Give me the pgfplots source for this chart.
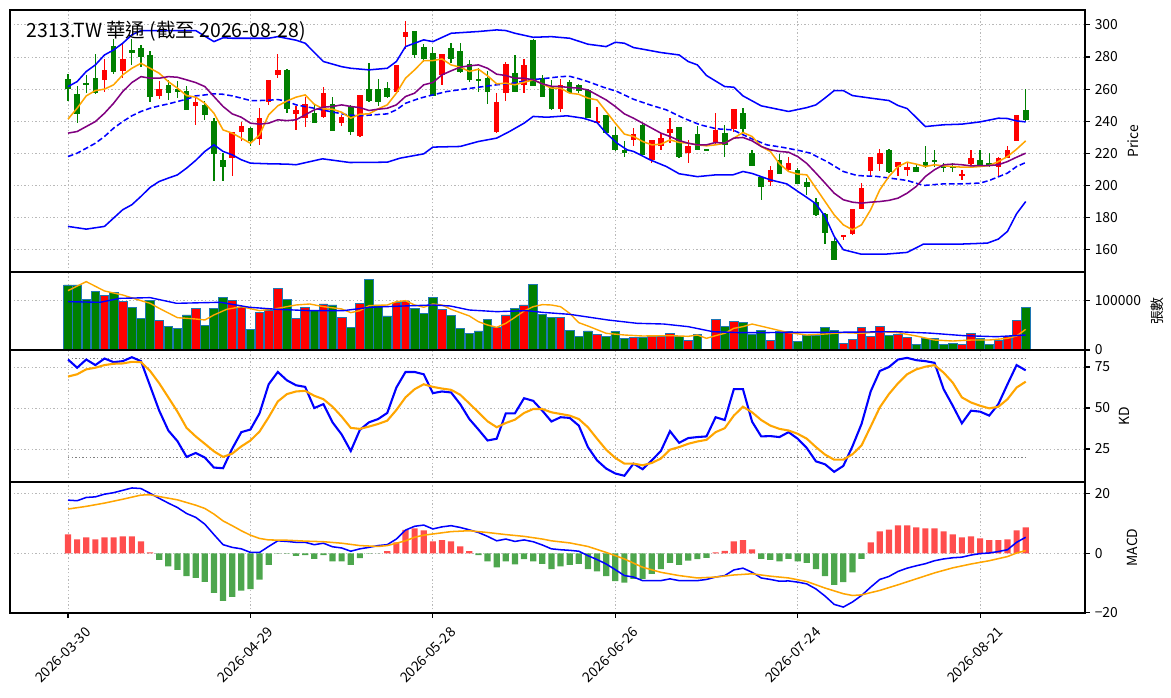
\documentclass[border=0pt]{standalone}
\usepackage{fontspec}
\setmainfont{Noto Sans CJK TC}
\usepackage{pgfplots}
\usepackage{pgfplotstable}
\pgfplotsset{compat=1.18}
\definecolor{cred}{RGB}{255,0,0}
\definecolor{cgreen}{RGB}{0,128,0}
\definecolor{cblue}{RGB}{0,0,255}
\definecolor{corange}{RGB}{255,165,0}
\definecolor{cpurple}{RGB}{128,0,128}
\definecolor{cedge}{RGB}{31,119,180}
\definecolor{hred}{RGB}{255,77,77}
\definecolor{hgreen}{RGB}{77,166,77}

% up (red) candles: index open high low close volume
\pgfplotstableread{
i o h l c v
4 265.4 278.6 258.5 272.0 110700
6 271.0 288.0 266.8 278.8 98000
10 256.0 265.1 253.7 260.2 59700
14 249.8 255.0 237.8 252.1 83900
18 217.0 233.4 206.2 233.2 100000
19 233.0 239.3 227.4 237.1 86000
21 228.8 248.5 224.9 241.9 75800
22 251.9 266.0 250.4 265.8 80500
23 269.1 282.2 266.8 272.0 124200
25 244.8 249.8 234.6 247.1 63800
26 242.3 255.4 236.3 250.8 86000
28 242.9 261.6 242.0 257.5 92600
30 239.2 244.0 237.1 242.5 65800
32 230.9 256.6 230.5 256.4 94000
36 258.5 275.3 257.9 275.1 96000
37 292.7 302.5 284.9 295.6 98700
41 268.9 282.2 262.7 281.9 81900
47 233.0 257.5 232.8 252.1 45600
48 257.5 276.8 252.5 275.7 70500
50 262.7 278.8 257.9 275.1 90600
54 247.5 266.4 246.0 262.7 65800
58 238.8 248.8 238.6 240.2 31500
62 228.4 235.7 224.3 232.2 25500
64 216.0 228.6 213.9 228.4 28200
65 224.3 232.6 221.8 229.7 28200
66 232.6 241.9 226.3 235.1 34200
68 220.3 228.4 214.3 224.7 18800
71 226.8 245.0 225.3 234.6 61700
73 235.3 247.9 233.6 247.7 57000
77 201.9 212.3 199.4 209.8 19500
79 209.8 218.0 208.7 213.9 37600
85 168.3 168.9 166.2 168.7 13400
86 169.7 185.5 168.9 185.3 21500
87 185.3 201.5 185.1 198.3 45600
88 209.3 217.8 206.2 217.6 27500
89 213.3 222.6 209.3 220.1 47700
91 211.8 214.9 205.6 214.5 31500
92 209.8 214.5 205.6 211.4 25500
98 205.6 209.8 203.5 207.3 11400
99 213.5 222.2 212.9 217.4 33600
102 211.8 218.0 205.2 217.2 18800
103 217.4 224.3 217.0 222.2 27500
104 227.8 244.2 227.6 244.0 59700
}\upc

% down (green) candles
\pgfplotstableread{
i o h l c v
0 266.4 269.3 252.9 260.0 130900
1 257.1 262.0 239.2 244.8 130900
2 264.0 269.0 257.5 263.0 102000
3 267.0 281.7 257.0 257.5 118000
5 286.9 291.0 269.5 270.5 116000
7 284.4 291.0 275.0 282.8 86000
8 285.9 287.8 274.0 279.9 63800
9 281.3 284.0 252.3 255.0 100000
11 262.7 265.4 253.3 257.3 47700
12 260.0 265.1 254.4 258.5 43600
13 258.9 262.2 247.1 247.3 70500
15 250.0 252.9 240.9 244.2 50300
16 240.2 241.9 202.9 219.9 83900
17 216.0 220.5 202.9 211.8 106000
20 235.9 236.7 224.3 227.4 41600
24 272.0 272.5 245.0 247.5 102000
27 245.4 250.2 239.0 239.2 79200
29 250.6 255.4 234.0 234.2 90600
31 249.2 250.2 231.5 233.0 45600
33 260.2 276.1 251.9 252.9 142300
34 260.2 266.4 249.2 252.3 90600
35 260.8 264.5 254.4 254.8 68500
38 296.3 296.5 279.3 281.5 83900
39 286.3 288.4 276.6 278.8 73800
40 282.6 286.1 255.8 256.0 106000
42 285.5 288.6 276.0 279.0 69800
43 283.8 288.6 269.9 270.5 43600
44 275.5 278.2 264.5 265.8 33600
45 265.9 273.0 258.5 265.5 38300
46 266.8 271.5 250.6 258.5 61700
49 269.9 281.3 258.3 258.5 83900
51 290.7 291.0 261.8 262.0 132200
52 267.2 268.9 255.0 255.4 71800
53 261.6 265.4 246.7 247.5 65800
55 264.7 265.8 257.5 257.9 39600
56 262.4 263.3 257.5 258.9 27500
57 259.5 260.2 241.8 242.3 38300
59 243.8 244.0 232.2 232.4 27500
60 231.5 236.7 221.6 221.8 37600
61 222.2 227.6 217.9 220.5 23500
63 237.8 238.0 218.8 219.1 25500
67 236.3 236.5 217.0 217.8 26800
69 232.2 237.0 222.0 222.2 31500
70 222.6 223.0 222.0 222.2 0
72 232.6 237.8 217.9 225.3 47000
74 245.0 248.3 233.6 235.1 55700
75 220.1 222.2 212.0 212.2 31500
76 205.0 205.2 190.7 198.8 39600
78 215.6 219.7 207.0 207.3 37600
80 209.8 210.6 201.0 201.1 17400
81 202.3 204.6 194.2 199.0 28900
82 189.6 192.5 181.0 181.3 28900
83 182.4 182.6 163.5 170.7 45600
84 165.6 168.7 153.3 153.5 39600
90 222.2 222.6 207.7 208.3 29500
93 211.4 213.5 208.1 208.5 11400
94 214.5 224.7 210.8 211.8 23500
95 216.0 221.8 211.8 214.7 23500
96 212.2 214.3 208.1 210.6 11400
97 212.4 213.9 208.7 210.8 13400
100 216.0 222.2 211.8 212.9 23500
101 214.3 220.1 211.8 212.9 11400
105 246.7 260.0 240.0 240.5 85900
}\dnc

\pgfplotsset{
 panel/.style={scale only axis, width=774pt, xmin=-6.36, xmax=111.5, anchor=north west,
   axis line style={line width=0.8pt},
   tick align=outside, ytick pos=right, yticklabel pos=right,
   xtick={0,20,40,60,80,100},
   xmajorgrids, ymajorgrids,
   major grid style={gray!55, line width=0.7pt, dash pattern=on 1pt off 1.6pt},
   major tick length=3.5pt,
   every tick/.style={black, line width=0.8pt},
   tick label style={font=\fontsize{10}{12}\selectfont},
   label style={font=\fontsize{10}{12}\selectfont},
   ylabel near ticks,
   /pgf/number format/assume math mode=true,
   /pgf/number format/1000 sep={},
   scaled y ticks=false,
 },
 upper/.style={panel, xticklabels={}, xtick style={draw=none}},
 wick/.style={only marks, mark=*, mark size=0pt, mark options={draw=none, fill=none}, forget plot,
   error bars/.cd, y dir=both, y explicit, error mark=none,
   error bar style={line width=0.9pt, color=#1}},
 body/.style={only marks, mark=*, mark size=0pt, mark options={draw=none, fill=none}, forget plot,
   error bars/.cd, y dir=both, y explicit, error mark=none,
   error bar style={line width=4pt, color=#1}},
}

\begin{document}
\begin{tikzpicture}
\useasboundingbox (-7.2pt,7.2pt) rectangle (835.92pt,-495.36pt);

% ---------------- price panel ----------------
\begin{axis}[upper, at={(0pt,0pt)}, height=188.64pt,
  ymin=146.1, ymax=309.3, ytick={160,180,200,220,240,260,280,300},
  ylabel={Price}]
\addplot[wick=cred] table[x=i, y expr={(\thisrow{h}+\thisrow{l})/2}, y error expr={(\thisrow{h}-\thisrow{l})/2}] {\upc};
\addplot[wick=cgreen] table[x=i, y expr={(\thisrow{h}+\thisrow{l})/2}, y error expr={(\thisrow{h}-\thisrow{l})/2}] {\dnc};
\addplot[body=cred] table[x=i, y expr={(\thisrow{o}+\thisrow{c})/2}, y error expr={max(abs(\thisrow{c}-\thisrow{o})/2,0.35)}] {\upc};
\addplot[body=cgreen] table[x=i, y expr={(\thisrow{o}+\thisrow{c})/2}, y error expr={max(abs(\thisrow{c}-\thisrow{o})/2,0.35)}] {\dnc};
% Bollinger upper
\addplot[cblue, line width=1.1pt, mark=none] coordinates {(0,261.6)(1,264.7)(2,271)(3,275.1)(4,281.3)(5,284.4)(6,288.6)(7,293.8)(8,296.5)(10,296.5)(12,296.5)(14,296.5)(15,293)(16,289.6)(17,292)(18,291.7)(20,291.7)(22,291.7)(23,292.7)(25,290.5)(26,288.6)(28,277.2)(30,274)(31,273)(33,272)(35,273)(36,277.2)(37,286.5)(39,290.7)(40,289.6)(42,294.8)(45,295.9)(47,296.9)(48,296.5)(49,294.8)(51,292.3)(53,292.7)(55,291.7)(57,288)(59,286.5)(60,289.2)(61,288.6)(62,285.9)(63,284.9)(65,282.8)(67,281.3)(68,277.2)(69,275.1)(70,268.5)(72,261.6)(73,261.2)(74,255.8)(76,249.6)(79,246.1)(81,248.5)(82,250.2)(83,254.5)(84,259.1)(85,259.1)(86,256)(88,254.4)(90,252.9)(91,249.8)(92,247.9)(94,236.7)(96,237.8)(98,238.2)(100,239.6)(102,241.9)(103,241.7)(104,240.2)(105,239.6)};
% Bollinger middle
\addplot[cblue, line width=1.1pt, mark=none, dash pattern=on 4pt off 2pt] coordinates {(0,218)(1,220.1)(2,223.2)(3,226.3)(4,230.5)(5,235.7)(6,239.8)(7,243.4)(8,246.1)(9,248.1)(10,249.6)(11,250.8)(12,252.3)(13,253.7)(14,255.8)(15,256.4)(16,257.1)(17,256.8)(18,255.8)(19,254.4)(20,252.9)(21,252.9)(22,253.1)(23,253.5)(24,252.5)(25,250.2)(27,248.1)(28.7,246.1)(30.6,244)(32,243.4)(33.5,244)(35,244.6)(36,247.1)(37,251.2)(38.6,254.4)(40,256.4)(41.5,258.5)(43.4,260)(45,261.2)(47,262.7)(48.8,263.7)(50.7,265.8)(52.5,266.8)(54,267.8)(55,268)(56,266.5)(57,264.7)(58.7,261.2)(60.2,258.5)(62,253.7)(63.8,250.2)(65.6,247.1)(67.5,241.9)(69.3,237.8)(71.1,235.3)(72.9,234.6)(74.8,229.5)(76.6,225.3)(78.4,223.7)(80.3,221.6)(81.4,220.1)(82.1,218)(83.2,214.9)(85,208.7)(86.5,206.2)(88.7,205.6)(91,203.9)(92,203.1)(93.8,200)(96,201)(98,201)(100,201.5)(101,203.1)(103,207.7)(104,211.8)(105,214.3)};
% Bollinger lower
\addplot[cblue, line width=1.1pt, mark=none] coordinates {(0,174.5)(2,172.8)(4,174.5)(5,179.7)(6,184.9)(7,188)(8,193.2)(9,198.8)(10,202.5)(11,204.6)(12,206.6)(13,210.8)(14,215.6)(15,221.2)(16,225.3)(17,221.2)(18,219.1)(19,216)(20,213.9)(22,213.5)(24,213.3)(25,212.9)(27.9,216.6)(30.9,214.3)(35,214.5)(36.4,217)(39,219.7)(40,223.9)(43,224.3)(45,227.4)(47,229.5)(48.4,233.6)(50,238.8)(51,243)(52.5,242.5)(54.7,243.4)(56.5,241.9)(58,239.2)(59,232.6)(60.2,226.3)(61.3,222.2)(62,221.2)(63.8,216)(65.6,211.8)(67,207.3)(69,205.5)(71,206.6)(72.9,206.6)(74,208.7)(75,207.5)(77,203.5)(78.8,201)(80.3,195.2)(81.4,191)(82,188.5)(83,180.7)(84,168.3)(85,160)(86.9,157.3)(89.8,157.3)(92,158.3)(93.8,163.5)(96,163.5)(98,163.5)(100.8,164.1)(102,166.6)(103,171.4)(104,182.4)(105,190)};
% MA (orange)
\addplot[corange, line width=1.1pt, mark=none] coordinates {(0,241.3)(1,248.1)(2,255.8)(3,259.1)(4,260)(5,262.7)(6,268.9)(7,273)(8,276.1)(9,273)(10,269.9)(11,264.7)(12,260.6)(13,256)(14,255)(15,251.2)(16,245)(17,234.6)(18,232.6)(19,229.5)(20,226.3)(21,231.5)(22,244)(23,249.6)(24,252.6)(25,255)(26,256.4)(27,250.6)(28,247.7)(29,247.5)(30,245.6)(31,241.9)(32,244.4)(33,244.6)(34,247.7)(35,250.2)(36,257.5)(37,266.8)(38,272)(39,277.8)(40,277.8)(41,278.8)(42,275.1)(43,273.7)(44,271)(45,272.4)(46,268.3)(47,263.3)(48,263.7)(49,262.7)(50,264.3)(51,265.8)(52,263.3)(53,260.6)(54,260.6)(55,257.5)(56,256.8)(57,254.4)(58,253.3)(59,246.1)(60,238.8)(61,232)(62,230.5)(63,227.4)(64,225.3)(65,225.7)(66,228.4)(67,226.8)(68,226.3)(69,225.3)(70,224.7)(71,225.3)(72,226.3)(73,229.5)(74,233)(75,230.5)(76,224.3)(77,221.2)(78,213.5)(79,208.7)(80,207.1)(81,206.6)(82,198.3)(83,190)(84,181.7)(85,175.5)(86,172.4)(87,175.5)(88,184.9)(89,197.3)(90,205.6)(91,211.8)(92,214.5)(93,213.3)(94,211.8)(95,212.9)(96,212.2)(97,211.8)(98,211.4)(99,211.4)(100,211.8)(101,212.4)(102,214.9)(103,218)(104,222.6)(105,227.8)};
% MA (purple)
\addplot[cpurple, line width=1.1pt, mark=none] coordinates {(0,232.6)(1,233.6)(2,236.7)(3,239.8)(4,245)(5,251.2)(6,258.5)(7,264.1)(8,267.8)(9,266.8)(10,266.8)(11,267.8)(12,267.4)(13,265.8)(14,264.1)(15,261.6)(16,255.4)(17,249.2)(18,244.6)(19,242.5)(20,238.8)(21,238.2)(22,238.8)(23,240.9)(24,240.4)(25,240.9)(26,244)(27,247.1)(28,248.8)(29,249.2)(30,250.2)(31,249.2)(32,248.5)(33,246.7)(34,247.5)(35,248.1)(36,250.2)(37,255.4)(38,257.5)(39,262.7)(40,264.1)(41,268.9)(42,271.4)(43,273.7)(44,274.5)(45,275.1)(46,273)(47,269.3)(48,268.5)(49,266.8)(50,266.8)(51,265.8)(52,263.3)(53,261.8)(54,261.6)(55,261)(56,260.6)(57,259.5)(58,256.4)(59,253.3)(60,249.2)(61,244.6)(62,241.9)(63,238.8)(64,235.7)(65,232.6)(66,230.5)(67,228)(68,226.3)(69,225.3)(70,225.3)(71,226.8)(72,226.3)(73,229.5)(74,229.9)(75,227.8)(76,224.3)(77,222.2)(78,221.2)(79,220.7)(80,218)(81,213.7)(82,207.7)(83,201.5)(84,195.2)(85,191.1)(86,189.6)(87,189)(88,189.6)(89,190)(90,190.7)(91,192.1)(92,195.2)(93,199.4)(94,205.6)(95,209.8)(96,212.9)(97,213.3)(98,212.9)(99,212.2)(100,212.4)(101,212.4)(102,212.9)(103,214.9)(104,217.6)(105,220.1)};
\node[anchor=base west, inner sep=0pt, font=\fontsize{14}{16}\selectfont] at (rel axis cs:0.0155,0.896) {2313.TW 華通 (截至 2026-08-28)};
\end{axis}

% ---------------- volume panel ----------------
\begin{axis}[upper, at={(0pt,-188.64pt)}, height=56.16pt,
  ymin=0, ymax=157000, ytick={0,100000}, yticklabels={0,100000},
  ylabel={張數}]
\addplot[ybar, bar width=0.95, bar shift=0pt, fill=cred, draw=cedge, line width=0.6pt] table[x=i, y=v] {\upc};
\addplot[ybar, bar width=0.95, bar shift=0pt, fill=cgreen, draw=cedge, line width=0.6pt] table[x=i, y=v] {\dnc};
\addplot[corange, line width=1pt, mark=none] coordinates {(0,119500)(2,137600)(4,118800)(6,110700)(8,99300)(9,94000)(10,83900)(12,65100)(14,62400)(15,60400)(16,70500)(17.4,81900)(19,87200)(21,79200)(23,83900)(25,90600)(26.5,92600)(28,87200)(30,82600)(31,75200)(32,79200)(33,89300)(35,90600)(36,97300)(37,99300)(38,90600)(39,86000)(40,92600)(41,90600)(42,81900)(44,68500)(45,57000)(46,50300)(47,45600)(48,53700)(49,65800)(50,78500)(51,87200)(52,91300)(53,90600)(54,87200)(55,73800)(56,55000)(57,48300)(59,33600)(61,30200)(63,28200)(66,28900)(68,27500)(69,30200)(70,23500)(71,28900)(72,33600)(73,43600)(74,47000)(75,52300)(77,43600)(79,34900)(81,30200)(83,32200)(85,34900)(87,33600)(89,36900)(91,34900)(93,28200)(95,20100)(97,18100)(99,20100)(101,20100)(103,23500)(104,28200)(105,41600)};
\addplot[cblue, line width=1pt, mark=none] coordinates {(0,97300)(3.5,96000)(5.7,104000)(9,105400)(11.9,94000)(16.7,96000)(19.9,86000)(22.9,81900)(26.5,79200)(30.2,79200)(33.1,86000)(36.8,88600)(40,90600)(41.9,88600)(44,80500)(47,77200)(50.3,79200)(52,75800)(55,71800)(59.2,60400)(62.4,53700)(65.3,52300)(68,47000)(70.7,36900)(73.7,34900)(76.2,35000)(79.8,35600)(83.5,35600)(87.2,36200)(90.8,36900)(94.5,34000)(98.2,28900)(101.8,26800)(105,30200)};
\end{axis}

% ---------------- KD panel ----------------
\begin{axis}[upper, at={(0pt,-244.8pt)}, height=95.04pt,
  ymin=4.9, ymax=85.4, ytick={25,50,75}, ylabel={KD}]
\addplot[gray, line width=0.8pt, dash pattern=on 1pt off 1.6pt, mark=none] coordinates {(0,80)(105,80)};
\addplot[gray, line width=0.8pt, dash pattern=on 1pt off 1.6pt, mark=none] coordinates {(0,20)(105,20)};
\addplot[cblue, line width=1.5pt, mark=none] coordinates {(0,79.6)(1,74.6)(2,79.6)(3,76.2)(4,80.2)(5,78)(6,78.6)(7,81)(8,78.6)(9,63.5)(10,48.4)(11,36.3)(12,29.8)(13,20.2)(14,22.6)(15,19.8)(16,13.7)(17,13.3)(18,25.2)(19,35.3)(20,36.9)(21,46.8)(22,64.5)(23,72)(24,66.9)(25,63.9)(26,62.9)(27,50)(28,52.4)(29,41.3)(30,33.9)(31,23.8)(32,36.7)(33,41.3)(34,43.3)(35,47)(36,62.5)(37,72)(38,72)(39,70.6)(40,59.1)(41,60.1)(42,59.5)(43,52.4)(44,43.3)(45,36.9)(46,30.2)(47,31.3)(48,46.8)(49,46.8)(50,56)(51,54.4)(52,48.4)(53,41.8)(54,44.4)(55,44)(56,39.3)(57,26.2)(58,18.1)(59,13.1)(60,10.1)(61,8.7)(62,16.1)(63,12.7)(64,18.1)(65,23.8)(66,35.9)(67,28.8)(68,31.7)(69,32.3)(70,32.7)(71,44.4)(72,42.7)(73,61.5)(74,61.5)(75,41.7)(76,32.7)(77,32.9)(78,32.3)(79,35.3)(80,31.3)(81,25.6)(82,17.5)(83,15.7)(84,11.1)(85,14.7)(86,26.6)(87,40.3)(88,60.1)(89,72.6)(90,75)(91,79.6)(92,80.6)(93,79.2)(94,78.6)(95,77.6)(96,61.5)(97,51.4)(98,40.7)(99,48.4)(100,47.8)(101,45.4)(102,52.4)(103,64.5)(104,76.2)(105,73)};
\addplot[corange, line width=1.5pt, mark=none] coordinates {(0,69.2)(1,70.6)(2,73.6)(3,74.6)(4,76.2)(5,77)(6,77.2)(7,78.2)(8,78)(9,72.6)(10,65.1)(11,56.5)(12,47.8)(13,37.9)(14,32.7)(15,28.2)(16,23.6)(17,20.2)(18,22.2)(19,26.6)(20,30.2)(21,35.7)(22,44.4)(23,54)(24,58.5)(25,60.1)(26,60.5)(27,57.5)(28,55.4)(29,50.8)(30,44.8)(31,37.9)(32,37.3)(33,38.7)(34,40.3)(35,42.3)(36,48.8)(37,56.5)(38,61.5)(39,64.5)(40,62.9)(41,61.9)(42,61.1)(43,58.1)(44,52.8)(45,47.4)(46,41.9)(47,38.3)(48,40.9)(49,42.9)(50,47)(51,49.4)(52,49.4)(53,47.4)(54,46.4)(55,45.4)(56,43.3)(57,38.3)(58,31.3)(59,24.6)(60,19.6)(61,16.1)(62,16.1)(63,15.1)(64,16.5)(65,19.2)(66,24.6)(67,26.2)(68,28.2)(69,29.6)(70,30.6)(71,35.3)(72,37.7)(73,45.4)(74,50.8)(75,47.4)(76,42.7)(77,39.3)(78,37.3)(79,36.3)(80,34.3)(81,31.3)(82,26.2)(83,21.6)(84,18.5)(85,18.5)(86,21.8)(87,27.2)(88,38.7)(89,50.4)(90,58.5)(91,65.1)(92,70.6)(93,73.6)(94,75.2)(95,76.2)(96,71.6)(97,65.5)(98,56.5)(99,53.4)(100,51.4)(101,49.8)(102,50.8)(103,55.4)(104,62.5)(105,66.1)};
\end{axis}

% ---------------- MACD panel ----------------
\begin{axis}[panel, at={(0pt,-339.84pt)}, height=94.32pt,
  ymin=-20.1, ymax=24, ytick={-20,0,20}, yticklabels={−20,0,20},
  ylabel={MACD}, xtick pos=left,
  xticklabels={2026-03-30,2026-04-29,2026-05-28,2026-06-26,2026-07-24,2026-08-21},
  xticklabel style={xshift=12pt, yshift=-1pt, rotate=45, anchor=north east}]
\addplot[ybar, bar width=0.68, bar shift=0pt, fill=hred, draw=none] coordinates {(0,6.4)(1,4.7)(2,5.4)(3,4.7)(4,5.4)(5,5.4)(6,5.7)(7,5.7)(8,4.0)(9,0.3)(35,0.7)(36,3.7)(37,7.9)(38,8.4)(39,7.7)(40,4.0)(41,4.4)(42,4.0)(43,2.3)(44,0.7)(71,0.3)(72,0.8)(73,4.0)(74,4.4)(75,1.3)(88,3.7)(89,7.4)(90,8.0)(91,9.4)(92,9.4)(93,8.7)(94,8.4)(95,8.4)(96,7.4)(97,6.4)(98,5.4)(99,5.7)(100,5.0)(101,4.4)(102,4.4)(103,4.7)(104,7.7)(105,8.7)};
\addplot[ybar, bar width=0.68, bar shift=0pt, fill=hgreen, draw=none] coordinates {(10,-2.2)(11,-4.4)(12,-5.6)(13,-7.7)(14,-8.3)(15,-9.6)(16,-13.3)(17,-16)(18,-14.7)(19,-12.6)(20,-12.1)(21,-8.9)(22,-3.9)(23,-0.1)(24,-0.1)(25,-0.9)(26,-0.6)(27,-1.9)(28,-0.6)(29,-2.7)(30,-2.7)(31,-3.9)(32,-1.6)(33,-0.1)(34,-0.05)(45,-0.6)(46,-2.7)(47,-4.7)(48,-2.7)(49,-3.7)(50,-2.0)(51,-2.7)(52,-3.6)(53,-5.3)(54,-4.4)(55,-3.9)(56,-3.6)(57,-5.3)(58,-6.1)(59,-7.7)(60,-9.4)(61,-9.9)(62,-8.6)(63,-8.6)(64,-6.9)(65,-5.3)(66,-3.2)(67,-3.9)(68,-2.5)(69,-2.0)(70,-1.5)(76,-1.9)(77,-2.2)(78,-2.7)(79,-1.9)(80,-2.7)(81,-3.2)(82,-5.3)(83,-7.7)(84,-10.6)(85,-9.7)(86,-6.4)(87,-1.9)};
\addplot[cblue, line width=1.1pt, mark=none] coordinates {(0,17.9)(1,17.7)(2,18.8)(3,19)(4,19.9)(5,20.4)(6,21.2)(7,22)(8,21.8)(9,20.2)(10,18.5)(11,16.9)(12,15.4)(13,13.4)(14,12.1)(15,9.8)(16,6.3)(17,2.9)(18,2)(19,1.5)(20,0.3)(21,0.3)(22,2.3)(23,4.2)(24,4)(25,3.7)(26,3.7)(27,2.9)(28,3.4)(29,2.2)(30,1.8)(31,0.7)(32,1.5)(33,2)(34,2.6)(35,2.9)(36,4.8)(37,7.8)(38,9.1)(39,9.5)(40,8.2)(41,8.9)(42,9.3)(43,8.7)(44,7.9)(45,7)(46,5.7)(47,4.2)(48,4.8)(49,4)(50,4.5)(51,3.9)(52,2.8)(53,1.5)(54,1.2)(55,1)(56,0.7)(57,-0.8)(58,-2.1)(59,-3.6)(60,-5.5)(61,-7.5)(62,-8)(63,-9.2)(64,-9.2)(65,-9.2)(66,-8.6)(67,-9.2)(68,-9.2)(69,-9.2)(70,-8.8)(71,-8)(72,-7.5)(73,-5.6)(74,-5)(75,-6.4)(76,-8.3)(77,-8.8)(78,-9.4)(79,-9.3)(80,-9.7)(81,-10.3)(82,-12)(83,-14.4)(84,-17.2)(85,-18.1)(86,-16.4)(87,-14.2)(88,-11.4)(89,-8.8)(90,-7.8)(91,-6.1)(92,-5)(93,-4.2)(94,-3.5)(95,-2.5)(96,-1.9)(97,-1.5)(98,-1.3)(99,-0.6)(100,-0.1)(101,0.1)(102,0.6)(103,1.2)(104,3.7)(105,5.4)};
\addplot[corange, line width=1.1pt, mark=none] coordinates {(0,14.9)(2,15.8)(4,16.9)(6,18.2)(8,19.6)(9,19.7)(10,19.1)(12,18)(14,16.2)(15,15.1)(16,13.2)(17,10.9)(18,9.3)(19,7.6)(20,6.1)(21,5)(22,4.5)(24,4.4)(26,4.1)(28,3.9)(30,3.4)(32,2.6)(34,2.3)(35,2.6)(36,3.4)(37,4.2)(38,5.4)(39,6.1)(40,6.5)(42,7.3)(44,7.6)(46,7)(48,6.3)(50,5.7)(52,4.8)(53,4.2)(55,3.5)(57,2.3)(59,0.3)(61,-1.9)(63,-4.7)(65,-6.4)(67,-7.5)(69,-8.3)(71,-8)(73,-7.3)(75,-6.9)(77,-7.7)(79,-8.3)(81,-9.5)(83,-11.7)(85,-13.6)(86,-14.2)(87,-14)(89,-12.5)(91,-10.6)(93,-8.6)(95,-6.6)(97,-4.9)(99,-3.6)(101,-2.5)(103,-1.1)(104,0.1)(105,0.9)};
\end{axis}
\end{tikzpicture}
\end{document}
